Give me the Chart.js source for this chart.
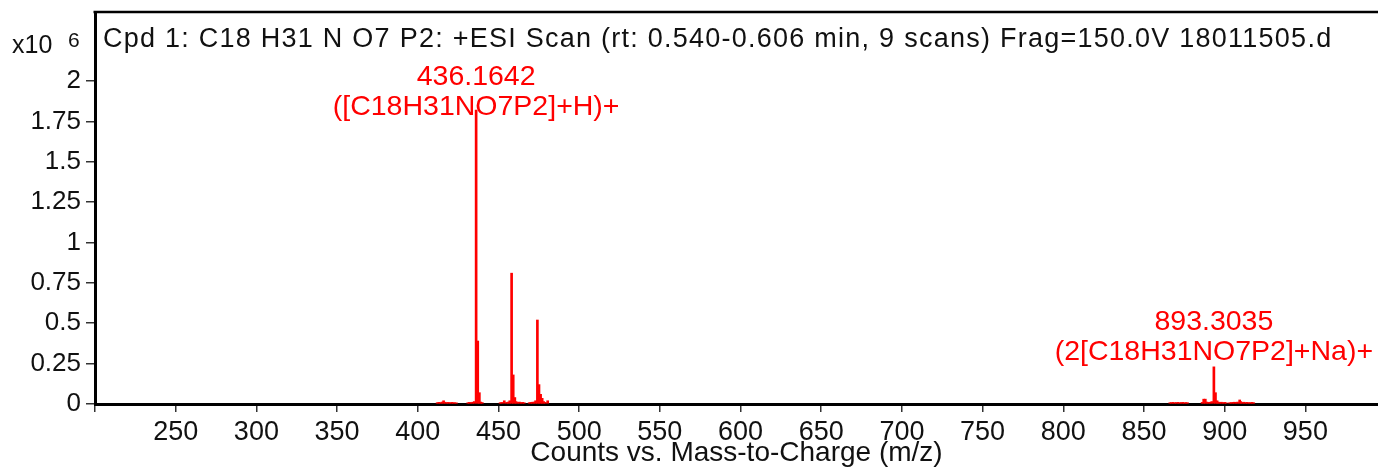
<!DOCTYPE html>
<html lang="en">
<head>
<meta charset="UTF-8">
<title>Mass spectrum</title>
<script src="https://cdn.jsdelivr.net/npm/chart.js"></script>
<style>
    body { margin: 0; padding: 0; background: #fff; }
    #wrap { width: 1378px; height: 468px; }
</style>
</head>
<body>
<div id="wrap"><canvas id="spectrum" width="1378" height="468"></canvas></div>
<script>
// m/z values and counts (x10^6)
const mz = [
    412, 413, 414, 415, 416, 417, 418, 419, 420, 421, 422, 423, 424,
    431, 432, 433, 434, 435, 436.1642, 437.17, 438.17, 439, 440,
    451, 452, 453.6, 455, 456, 457, 458.15, 459.15, 460.15, 461, 462, 463, 464, 465, 466,
    469, 470, 471, 472, 473, 474.12, 475.12, 476.12, 477.1, 478, 479, 480.5,
    866, 867, 868, 869, 870, 871, 872, 873, 874, 875, 876, 877,
    886, 887, 888, 889, 890, 891, 892, 893.3035, 894.3, 895.3, 896, 897, 898, 899, 900, 901,
    903, 904, 905, 906, 907, 908, 909.3, 910, 911, 912, 913, 914, 915, 916, 917, 918
];
const counts = [
    0.008, 0.010, 0.009, 0.012, 0.020, 0.011, 0.009, 0.010, 0.008, 0.010, 0.009, 0.008, 0.007,
    0.008, 0.010, 0.009, 0.011, 0.015, 1.82, 0.39, 0.07, 0.012, 0.009,
    0.008, 0.010, 0.020, 0.010, 0.012, 0.020, 0.81, 0.18, 0.04, 0.015, 0.010, 0.012, 0.009, 0.010, 0.008,
    0.008, 0.010, 0.011, 0.012, 0.020, 0.52, 0.12, 0.06, 0.035, 0.015, 0.010, 0.020,
    0.008, 0.009, 0.010, 0.008, 0.009, 0.010, 0.008, 0.009, 0.010, 0.008, 0.009, 0.008,
    0.010, 0.030, 0.030, 0.012, 0.010, 0.011, 0.015, 0.23, 0.07, 0.02, 0.012, 0.010, 0.011, 0.009, 0.010, 0.008,
    0.008, 0.009, 0.010, 0.011, 0.010, 0.012, 0.025, 0.015, 0.010, 0.011, 0.009, 0.010, 0.008, 0.009, 0.010, 0.008
];

// axis ticks
const xTicks = [200, 250, 300, 350, 400, 450, 500, 550, 600, 650, 700, 750, 800, 850, 900, 950];
const xTickLabels = ['', '250', '300', '350', '400', '450', '500', '550', '600', '650', '700', '750', '800', '850', '900', '950'];
const yTicks = [0, 0.25, 0.5, 0.75, 1, 1.25, 1.5, 1.75, 2];
const yTickLabels = ['0', '0.25', '0.5', '0.75', '1', '1.25', '1.5', '1.75', '2'];

// peak annotations
const peakMz = [436.1642, 893.3035];
const peakMass = ['436.1642', '893.3035'];
const peakIon = ['([C18H31NO7P2]+H)+', '(2[C18H31NO7P2]+Na)+'];

const titleText = 'Cpd 1: C18 H31 N O7 P2: +ESI Scan (rt: 0.540-0.606 min, 9 scans) Frag=150.0V 18011505.d';
const FONT = '"Liberation Sans", Arial, sans-serif';

const points = mz.map((m, i) => ({ x: m, y: counts[i] }));

// frame, title, exponent and peak labels
const decorPlugin = {
    id: 'decor',
    afterDraw(chart) {
        const ctx = chart.ctx;
        const area = chart.chartArea;
        const xs = chart.scales.x;
        const ys = chart.scales.y;
        ctx.save();

        // top frame line
        ctx.strokeStyle = '#000';
        ctx.lineWidth = 2.5;
        ctx.beginPath();
        ctx.moveTo(area.left - 1.5, area.top);
        ctx.lineTo(chart.width, area.top);
        ctx.stroke();

        // title inside plot
        ctx.fillStyle = '#111';
        ctx.font = '27px ' + FONT;
        ctx.letterSpacing = '1.25px';
        ctx.textAlign = 'left';
        ctx.textBaseline = 'alphabetic';
        ctx.fillText(titleText, area.left + 8, 47);
        ctx.letterSpacing = '0px';

        // x10^6
        ctx.font = '25px ' + FONT;
        ctx.fillText('x10', 12, 53);
        ctx.font = '21px ' + FONT;
        ctx.fillText('6', 68, 47);

        // peak labels
        ctx.fillStyle = '#ff0000';
        ctx.font = '28.5px ' + FONT;
        ctx.textAlign = 'center';
        ctx.textBaseline = 'middle';
        peakMz.forEach((m, i) => {
            const idx = mz.indexOf(m);
            const px = xs.getPixelForValue(m);
            const top = ys.getPixelForValue(counts[idx]);
            const line1 = Math.max(top - 45, 77);
            ctx.fillText(peakMass[i], px, line1);
            ctx.fillText(peakIon[i], px, line1 + 30);
        });
        ctx.restore();
    }
};

new Chart(document.getElementById('spectrum'), {
    type: 'bar',
    data: {
        datasets: [{
            data: points,
            backgroundColor: '#ff0000',
            borderWidth: 0,
            barThickness: 2,
            grouped: false
        }]
    },
    options: {
        responsive: false,
        animation: false,
        layout: { padding: { top: 12, right: 0, left: 0, bottom: 0 } },
        plugins: {
            legend: { display: false },
            tooltip: { enabled: false }
        },
        scales: {
            x: {
                type: 'linear',
                offset: false,
                min: 200,
                max: 995,
                afterBuildTicks: axis => { axis.ticks = xTicks.map(v => ({ value: v })); },
                afterFit: axis => {
                    axis.height = 64;
                    axis.paddingLeft = 0;
                    axis.paddingRight = 0;
                },
                ticks: {
                    autoSkip: false,
                    maxRotation: 0,
                    padding: 4,
                    color: '#111',
                    font: { family: FONT, size: 27 },
                    callback: (v) => xTickLabels[xTicks.indexOf(v)]
                },
                grid: { offset: false, drawOnChartArea: false, drawTicks: true, tickLength: 8, color: '#333', lineWidth: 1.5 },
                border: { display: true, color: '#000', width: 3 },
                title: {
                    display: true,
                    text: 'Counts vs. Mass-to-Charge (m/z)',
                    color: '#111',
                    font: { family: FONT, size: 28 },
                    padding: { top: 0, bottom: -2 }
                }
            },
            y: {
                min: 0,
                max: 2.427,
                afterBuildTicks: axis => { axis.ticks = yTicks.map(v => ({ value: v })); },
                afterFit: axis => {
                    axis.width = 95;
                    axis.paddingTop = 0;
                    axis.paddingBottom = 0;
                },
                ticks: {
                    padding: 5,
                    color: '#111',
                    font: { family: FONT, size: 26 },
                    callback: (v) => yTickLabels[yTicks.indexOf(v)]
                },
                grid: { drawOnChartArea: false, drawTicks: true, tickLength: 9, color: '#333', lineWidth: 1.5 },
                border: { display: true, color: '#000', width: 3 }
            }
        }
    },
    plugins: [decorPlugin]
});
</script>
</body>
</html>
